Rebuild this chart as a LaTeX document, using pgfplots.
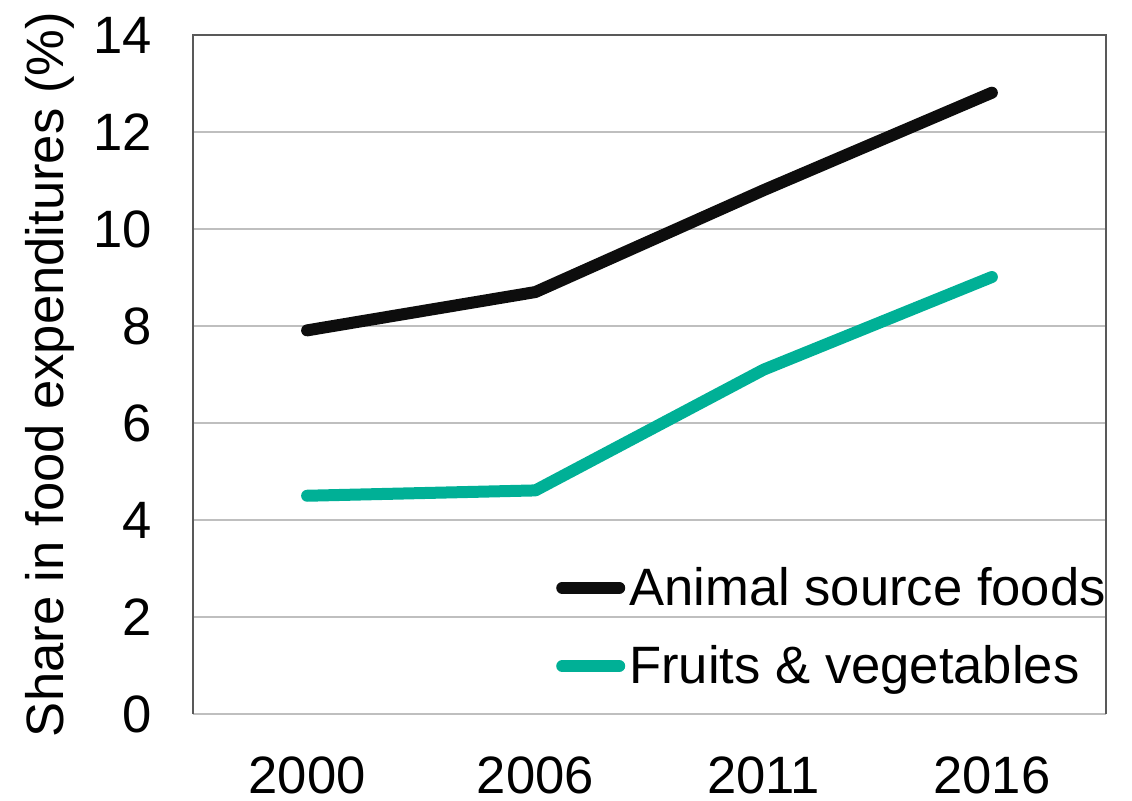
\documentclass[border=0pt]{standalone}
\usepackage{fontspec}
\setmainfont{Liberation Sans}
\usepackage{pgfplots}
\pgfplotsset{compat=1.18}
\definecolor{teal1}{HTML}{00B096}
\definecolor{frame}{HTML}{595959}
\definecolor{grid}{HTML}{D9D9D9}
\begin{document}
\begin{tikzpicture}
\path[use as bounding box] (-96.5pt,-43pt) rectangle (469.5pt,357pt);
\begin{axis}[
  at={(0,0)}, anchor=south west,
  scale only axis, width=456.5pt, height=339.5pt,
  xmin=-0.5, xmax=3.5, ymin=0, ymax=14,
  xtick={0,1,2,3}, xticklabels={2000,2006,2011,2016},
  ytick={0,2,...,14},
  xmajorgrids=false, ymajorgrids=true, major grid style={grid, line width=1pt},
  major tick length=0pt,
  axis line style={draw=none},
  font=\fontsize{26.3}{31}\selectfont,
  /pgf/number format/assume math mode=true,
  yticklabel style={xshift=-17pt},
  xticklabel style={inner ysep=0pt, text depth=0pt, yshift=-21pt},
  ylabel={Share in food expenditures (\%)},
  ylabel style={at={(axis description cs:0,0.5)}, anchor=center, yshift=71.5pt},
  legend style={at={(1.009,0.028)}, anchor=south east, draw=none, fill=none, font=\fontsize{26.3}{31}\selectfont, row sep=14.5pt, inner sep=2pt},
  legend cell align=left,
  legend image code/.code={\draw[#1, line cap=round] (0pt,0pt) -- (28.5pt,0pt);},
  after end axis/.code={
    \draw[frame, line width=1pt] (rel axis cs:0,0) -- (rel axis cs:0,1) -- (rel axis cs:1,1) -- (rel axis cs:1,0);
  },
]
\addplot[color=black!95, line width=6pt, line cap=round, line join=round] coordinates {(0,7.91) (1,8.70) (2,10.80) (3,12.81)};
\addlegendentry{Animal source foods}
\addplot[color=teal1, line width=6pt, line cap=round, line join=round] coordinates {(0,4.50) (1,4.61) (2,7.10) (3,9.01)};
\addlegendentry{Fruits \& vegetables}
\end{axis}
\end{tikzpicture}
\end{document}
